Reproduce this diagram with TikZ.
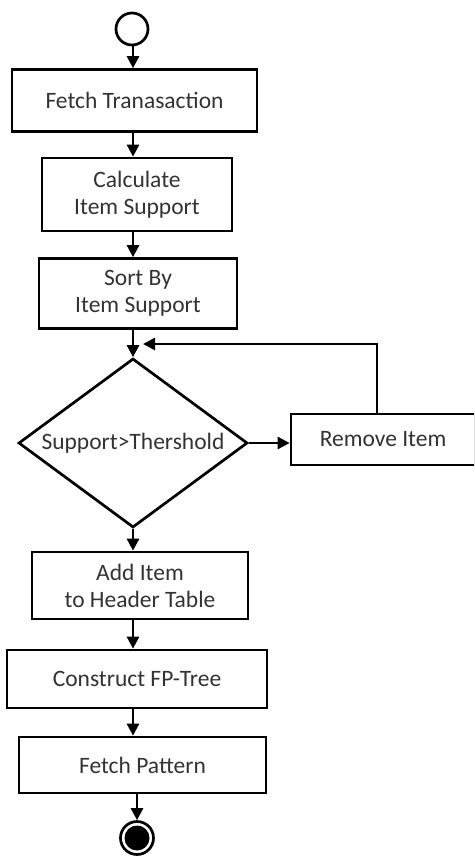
\documentclass[tikz,border=0pt]{standalone}
\usepackage{fontspec}
\setmainfont{Carlito}
\usetikzlibrary{shapes.geometric,arrows.meta}

\begin{document}
\begin{tikzpicture}[x=1pt,y=-1pt,
    box/.style={draw, line width=2.7pt, align=center, inner sep=0pt,
        font=\fontsize{23.5}{27}\selectfont, text=black!80},
    decision/.style={box, diamond, aspect=1.4},
    flow/.style={line width=2.7pt, -{Triangle[length=12pt,width=12pt]}}]
    \useasboundingbox (0,0) rectangle (474,861);
    \clip (0,0) rectangle (474,861);
    \coordinate (axis) at (133,0); % main column of arrows

    \node[draw, circle, line width=2.7pt, minimum size=32pt, inner sep=0pt] (start) at (132,29) {};
    \node[box, minimum width=245pt, minimum height=62pt] (fetch) at (134.5,100.5) {Fetch Tranasaction};
    \node[box, minimum width=190pt, minimum height=73pt] (calc) at (137,194.5) {Calculate\\Item Support};
    \node[box, minimum width=198pt, minimum height=70pt] (sort) at (138,293.5) {Sort By\\Item Support};
    \node[decision, minimum width=229pt, minimum height=169pt] (choice) at (133,443) {Support>Thershold};
    \node[box, minimum width=184pt, minimum height=51pt] (remove) at (383,439.5) {Remove Item};
    \node[box, minimum width=216pt, minimum height=67pt] (header) at (140,585.5) {Add Item\\to Header Table};
    \node[box, minimum width=260pt, minimum height=58pt] (tree) at (137,679) {Construct FP-Tree};
    \node[box, minimum width=247pt, minimum height=56pt] (pattern) at (142.5,765) {Fetch Pattern};
    \node[draw, circle, line width=2.7pt, minimum size=33pt, inner sep=0pt] (finish) at (137,838) {};
    \fill (finish.center) circle (12.5pt);

    \draw[flow] (start.south -| axis) -- (fetch.north -| axis);
    \draw[flow] (fetch.south -| axis) -- (calc.north -| axis);
    \draw[flow] (calc.south -| axis) -- (sort.north -| axis);
    \draw[flow] (sort.south -| axis) -- (choice.north);
    \draw[flow] (choice.east) -- (choice.east -| remove.west);
    \coordinate (rejoin) at (143,344);
    \draw[flow] ([xshift=-6pt]remove.north) |- (rejoin); % back to the check
    \draw[flow] (choice.south) -- (header.north -| axis);
    \draw[flow] (header.south -| axis) -- (tree.north -| axis);
    \draw[flow] (tree.south -| axis) -- (pattern.north -| axis);
    \draw[flow] (pattern.south -| finish) -- (finish.north);
\end{tikzpicture}
\end{document}
